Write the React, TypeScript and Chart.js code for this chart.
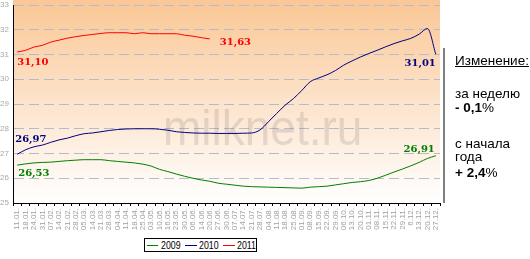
import React, { useEffect, useRef } from 'react';
import { Chart, registerables } from 'chart.js';

Chart.register(...registerables);

// ---------- DATA ----------
const categories = [
  '11.01.', '18.01.', '24.01.', '31.01.', '07.02.', '14.02.', '21.02.', '28.02.', '05.03.', '14.03.',
  '21.03.', '28.03.', '04.04.', '11.04.', '18.04.', '25.04.', '03.05.', '10.05.', '16.05.', '23.05.',
  '30.05.', '06.06.', '14.06.', '20.06.', '27.06.', '30.06.', '07.07.', '14.07.', '21.07.', '28.07.',
  '04.08.', '11.08.', '18.08.', '25.08.', '01.09.', '08.09.', '15.09.', '22.09.', '29.09.', '06.10.',
  '13.10.', '20.10.', '01.11.', '08.11.', '15.11.', '22.11.', '29.11.', '6.12.', '13.12.', '20.12.',
  '27.12.',
];

const seriesNames = ['2009', '2010', '2011'];

const values2009 = [
  26.53, 26.58, 26.62, 26.64, 26.65, 26.68, 26.71, 26.73, 26.75, 26.75,
  26.75, 26.71, 26.68, 26.65, 26.62, 26.57, 26.49, 26.36, 26.27, 26.17,
  26.08, 26.0, 25.93, 25.88, 25.8, 25.76, 25.72, 25.68, 25.66, 25.65,
  25.64, 25.63, 25.62, 25.61, 25.6, 25.64, 25.66, 25.68, 25.73, 25.78,
  25.83, 25.86, 25.91, 26.0, 26.12, 26.25, 26.37, 26.5, 26.64, 26.8,
  26.91,
];

const values2010 = [
  26.97, 27.15, 27.27, 27.34, 27.45, 27.55, 27.62, 27.72, 27.8, 27.83,
  27.88, 27.93, 27.97, 27.99, 28.0, 28.0, 28.0, 27.98, 27.94, 27.88,
  27.85, 27.83, 27.82, 27.82, 27.81, 27.81, 27.81, 27.82, 27.83, 27.95,
  28.28, 28.62, 28.95, 29.22, 29.55, 29.9, 30.05, 30.18, 30.35, 30.57,
  30.74, 30.9, 31.04, 31.17, 31.31, 31.44, 31.55, 31.65, 31.82, 32.05,
  31.01,
];

const values2011 = [
  31.1, 31.17, 31.3, 31.37, 31.5, 31.58, 31.66, 31.72, 31.77, 31.81,
  31.85, 31.88, 31.88, 31.88, 31.84, 31.88, 31.84, 31.84, 31.84, 31.84,
  31.78, 31.74, 31.68, 31.63,
];

const yTickValues = [25, 26, 27, 28, 29, 30, 31, 32, 33];

const changeTitle = 'Изменение:';
const weekLabel = 'за неделю';
const weekValue = '- 0,1';
const yearLabel1 = 'с начала';
const yearLabel2 = 'года';
const yearValue = '+ 2,4';
const watermarkText = 'milknet.ru';

// ---------- STYLES ----------
const COLORS = ['#008000', '#000080', '#FF0000'];
const LABEL_FONT = 'bold 10px "DejaVu Serif", serif';

// per-dataset end label placement: [dataset, end, dx, dy, align]
const END_LABELS: Array<[number, 'first' | 'last', number, number, CanvasTextAlign]> = [
  [0, 'first', 1, 11, 'left'],
  [0, 'last', -1, -4, 'right'],
  [1, 'first', -2, -12, 'left'],
  [1, 'last', 0, 12, 'right'],
  [2, 'first', 0, 13, 'left'],
  [2, 'last', 10, 6, 'left'],
];

const fmt = (v: number) => v.toFixed(2).replace('.', ',');

const backgroundPlugin = {
  id: 'bgGradient',
  beforeDraw(chart: any) {
    const { ctx, chartArea } = chart;
    const g = ctx.createLinearGradient(0, 0, 0, chartArea.bottom);
    g.addColorStop(0, '#FAC796');
    g.addColorStop(1, '#FFFFFF');
    ctx.save();
    ctx.fillStyle = g;
    ctx.fillRect(chartArea.left, 0, chartArea.right - chartArea.left, chartArea.bottom);
    ctx.restore();
  },
  beforeDatasetsDraw(chart: any) {
    const { ctx } = chart;
    ctx.save();
    ctx.translate(163, 145);
    ctx.scale(0.92, 1);
    ctx.font = '50px "Liberation Sans", Arial, sans-serif';
    ctx.fillStyle = 'rgba(110,100,100,0.18)';
    ctx.textBaseline = 'alphabetic';
    ctx.fillText(watermarkText, 0, 0);
    ctx.restore();
  },
};

const endLabelPlugin = {
  id: 'endLabels',
  afterDatasetsDraw(chart: any) {
    const { ctx } = chart;
    ctx.save();
    ctx.font = LABEL_FONT;
    ctx.textBaseline = 'alphabetic';
    for (const [di, end, dx, dy, align] of END_LABELS) {
      const meta = chart.getDatasetMeta(di);
      const data = chart.data.datasets[di].data as number[];
      const idx = end === 'first' ? 0 : data.length - 1;
      const el = meta.data[idx];
      if (!el) continue;
      ctx.fillStyle = COLORS[di];
      ctx.textAlign = align;
      ctx.fillText(fmt(data[idx]), el.x + dx, el.y + dy);
    }
    ctx.restore();
  },
};

export default function App() {
  const canvasRef = useRef<HTMLCanvasElement | null>(null);

  useEffect(() => {
    document.body.style.margin = '0';
    const canvas = canvasRef.current;
    if (!canvas) return;
    const chart = new Chart(canvas, {
      type: 'line',
      data: {
        labels: categories,
        datasets: [values2009, values2010, values2011].map((d, i) => ({
          label: seriesNames[i],
          data: d,
          borderColor: COLORS[i],
          backgroundColor: COLORS[i],
          borderWidth: 1,
          pointRadius: 0,
          fill: false,
          cubicInterpolationMode: 'monotone' as const,
        })),
      },
      options: {
        responsive: false,
        maintainAspectRatio: false,
        animation: false,
        devicePixelRatio: 1,
        layout: { padding: { left: 0, top: 5, right: 90, bottom: 0 } },
        plugins: {
          legend: { display: false },
          tooltip: { enabled: false },
        },
        scales: {
          x: {
            type: 'category',
            offset: true,
            grid: {
              offset: true,
              drawOnChartArea: false,
              drawTicks: true,
              tickLength: 3,
              color: '#000',
              tickColor: '#000',
            },
            border: { display: true, color: '#000', width: 1 },
            ticks: {
              autoSkip: false,
              maxRotation: 90,
              minRotation: 90,
              padding: 2,
              color: '#A0A0A0',
              font: { size: 8, family: '"Liberation Sans", Arial, sans-serif' },
            },
            afterFit(scale: any) {
              scale.height = 56;
              scale.paddingLeft = 0;
              scale.paddingRight = 0;
            },
          },
          y: {
            min: yTickValues[0],
            max: yTickValues[yTickValues.length - 1],
            afterBuildTicks(scale: any) {
              scale.ticks = yTickValues.map((v) => ({ value: v }));
            },
            grid: {
              color: '#B4BCCC',
              drawTicks: false,
              lineWidth: 1,
            },
            border: { display: true, color: '#000', width: 1, dash: [10, 5] },
            ticks: {
              padding: 4,
              color: '#A8A8A8',
              font: { size: 8, family: '"Liberation Sans", Arial, sans-serif' },
            },
            afterFit(scale: any) {
              scale.width = 13;
              scale.paddingTop = 0;
              scale.paddingBottom = 0;
            },
          },
        },
      },
      plugins: [backgroundPlugin, endLabelPlugin],
    });
    return () => chart.destroy();
  }, []);

  const panelFont = '13.5px "Liberation Sans", Arial, sans-serif';
  const textLine = (top: number, content: React.ReactNode, extra: React.CSSProperties = {}) => (
    <div
      style={{
        position: 'absolute',
        left: 455,
        top,
        font: panelFont,
        lineHeight: '15px',
        color: '#000',
        whiteSpace: 'nowrap',
        ...extra,
      }}
    >
      {content}
    </div>
  );

  const legendItems = [
    { line: 147, w: 11, text: 161 },
    { line: 185, w: 12, text: 199 },
    { line: 223, w: 12, text: 237 },
  ];

  return (
    <div
      style={{
        position: 'absolute',
        left: 0,
        top: 0,
        width: 530,
        height: 259,
        background: '#fff',
        overflow: 'hidden',
      }}
    >
      <canvas ref={canvasRef} width={530} height={259} style={{ position: 'absolute', left: 0, top: 0, width: 530, height: 259 }} />

      {/* separator */}
      <div style={{ position: 'absolute', left: 443, top: 48, width: 2, height: 155, background: '#808080' }} />

      {textLine(52.8, changeTitle, { textDecoration: 'underline' })}
      {textLine(85.8, weekLabel)}
      {textLine(99.8, <><b>{weekValue}</b>%</>)}
      {textLine(135.8, yearLabel1)}
      {textLine(148.8, yearLabel2)}
      {textLine(164.8, <><b>{yearValue}</b>%</>)}

      {/* legend */}
      <div
        style={{
          position: 'absolute',
          left: 144,
          top: 238,
          width: 111,
          height: 12,
          border: '1px solid #000',
          background: '#fff',
        }}
      />
      {legendItems.map((it, i) => (
        <React.Fragment key={seriesNames[i]}>
          <div style={{ position: 'absolute', left: it.line, top: 245, width: it.w, height: 1, background: COLORS[i] }} />
          <div
            style={{
              position: 'absolute',
              left: it.text,
              top: 238.5,
              font: '11px "Liberation Sans", Arial, sans-serif',
              lineHeight: '12px',
              color: '#000',
              transform: 'scaleX(0.8)',
              transformOrigin: 'left center',
              whiteSpace: 'nowrap',
            }}
          >
            {seriesNames[i]}
          </div>
        </React.Fragment>
      ))}
    </div>
  );
}
